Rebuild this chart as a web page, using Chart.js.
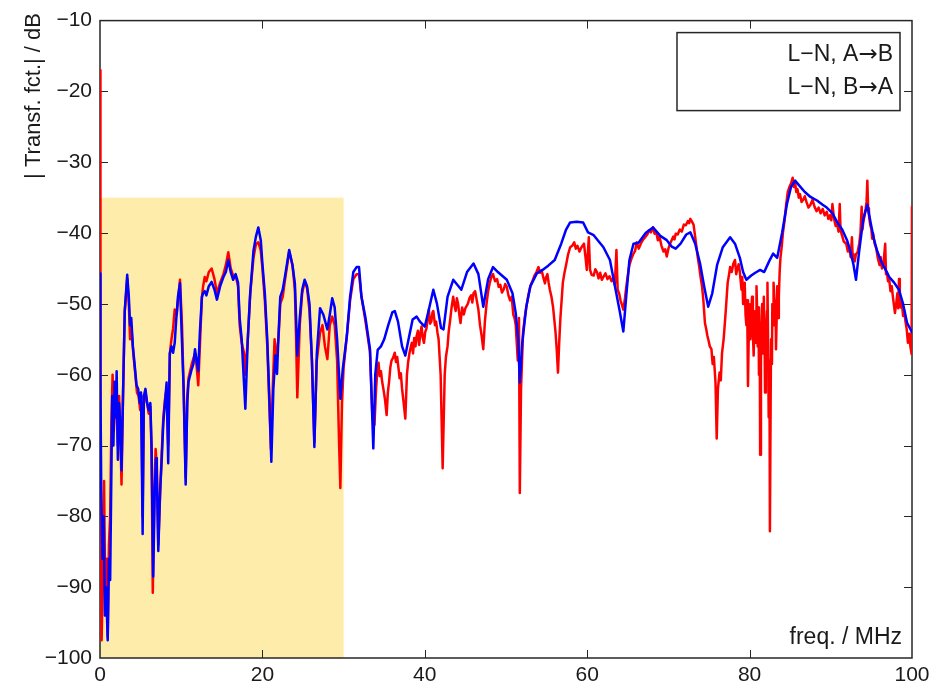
<!DOCTYPE html>
<html>
<head>
<meta charset="utf-8">
<script src="https://cdn.jsdelivr.net/npm/chart.js@4.4.1/dist/chart.umd.min.js"></script>
<style>
  html, body { margin: 0; padding: 0; background: #ffffff; }
  canvas { display: block; }
</style>
</head>
<body>
<canvas id="chart" width="942" height="688"></canvas>
<script>
// Transfer function magnitude, [frequency MHz, dB]
const traceAtoB = [
  [0,-17],[0.03,-35],[0.08,-70],[0.2,-97.5],[0.35,-88],[0.5,-75],[0.65,-92],[0.8,-86],[0.95,-97],[1.1,-84],
  [1.25,-80],[1.4,-67],[1.55,-60],[1.7,-68],[1.85,-62],[2.0,-64],[2.2,-70],[2.35,-63],[2.5,-68],[2.65,-75.5],
  [2.85,-62],[3.05,-51],[3.35,-46.5],[3.55,-50],[3.7,-55],[3.9,-54],[4.1,-57],[4.35,-60],[4.55,-62.5],[4.75,-63],
  [4.95,-65],[5.1,-63],[5.25,-80],[5.4,-64],[5.6,-62.5],[5.8,-64],[6.0,-65.5],[6.2,-64.5],[6.35,-71],[6.5,-90.8],
  [6.7,-76],[6.85,-70.5],[7.0,-73],[7.18,-84],[7.4,-77],[7.6,-71],[7.8,-66],[8.0,-63.5],[8.2,-62],[8.4,-70],
  [8.6,-57],[8.8,-55],[9.0,-53.5],[9.2,-50.8],[9.45,-51.5],[9.65,-49],[9.85,-46.6],[10.1,-53],[10.3,-62],[10.55,-74.5],
  [10.75,-63],[10.9,-60.5],[11.3,-58.5],[11.7,-57],[11.9,-58.8],[12.1,-61.5],[12.3,-56],[12.55,-49],[12.7,-47.5],[12.9,-46.2],
  [13.1,-46.8],[13.4,-45.5],[13.75,-45],[14.1,-46.5],[14.4,-48.5],[14.8,-47],[15.2,-45.8],[15.5,-44.5],[15.8,-42.7],[16.1,-45],
  [16.4,-46],[16.7,-46],[17.0,-47.5],[17.2,-53],[17.45,-55.5],[17.75,-57],[17.9,-60],[18.2,-55],[18.5,-48.5],[18.9,-43.5],
  [19.2,-41.6],[19.5,-41.3],[19.8,-42.5],[20.0,-45],[20.3,-49.5],[20.6,-56],[20.85,-64],[21.05,-70.5],[21.3,-61],[21.5,-55],
  [21.7,-58],[22.0,-54.5],[22.2,-50],[22.5,-49],[22.8,-46.5],[23.3,-42.6],[23.7,-44.5],[24.0,-48],[24.15,-55],[24.3,-63.2],
  [24.6,-53],[24.9,-48.5],[25.2,-46.8],[25.5,-47.8],[25.8,-51],[26.1,-58],[26.4,-69.5],[26.7,-58],[27.1,-54.1],[27.4,-53],
  [27.7,-56],[28.0,-57.8],[28.3,-53],[28.6,-51.8],[28.9,-53],[29.2,-58],[29.45,-70],[29.6,-76],[29.8,-64],[30.0,-59],
  [30.4,-54.5],[30.8,-49.5],[31.2,-46.5],[31.6,-45.8],[31.9,-45.8],[32.2,-49],[32.7,-52.5],[33.25,-56.8],[33.55,-66],[33.8,-67.1],
  [34.0,-62],[34.15,-59.5],[34.3,-58.3],[34.45,-60.2],[34.6,-59.5],[34.75,-61],[34.9,-62],[35.1,-63.5],[35.3,-65.7],[35.45,-62.5],
  [35.6,-61],[35.75,-59],[35.9,-58],[36.1,-57.6],[36.3,-56.9],[36.45,-58.2],[36.6,-57.5],[36.75,-59],[36.9,-60.5],[37.05,-59.8],
  [37.2,-62],[37.4,-64],[37.6,-66.2],[37.8,-60],[37.95,-58.2],[38.1,-57],[38.25,-56.2],[38.4,-55.5],[38.55,-57],[38.7,-54.8],
  [38.85,-56],[39.0,-54.5],[39.15,-53.8],[39.3,-55.8],[39.45,-54.2],[39.6,-53.2],[39.75,-54.8],[39.9,-55.5],[40.05,-54],[40.2,-53.5],
  [40.35,-52],[40.5,-50.8],[40.65,-52.8],[40.8,-52.5],[40.95,-51.2],[41.05,-51],[41.25,-53],[41.4,-52.5],[41.55,-54],[41.7,-55],
  [41.95,-60],[42.2,-73.2],[42.45,-60],[42.6,-57.5],[42.8,-56],[42.95,-53.8],[43.1,-52.5],[43.3,-50.5],[43.5,-49],[43.65,-50.2],
  [43.8,-51],[43.95,-49.2],[44.1,-50],[44.25,-51.5],[44.4,-52.7],[44.6,-50.5],[44.8,-51.5],[45.0,-50.6],[45.3,-50],[45.5,-49.2],
  [45.7,-48.8],[45.85,-49.8],[46.0,-48.5],[46.2,-48.2],[46.4,-49.5],[46.6,-50.8],[46.8,-53],[47.0,-54.5],[47.2,-56.4],[47.4,-52.5],
  [47.6,-50],[47.8,-48.2],[48.0,-47],[48.2,-46.2],[48.4,-45.8],[48.65,-46.8],[48.9,-46.5],[49.1,-47.6],[49.3,-47.3],[49.5,-48.4],
  [49.7,-48],[49.9,-47.2],[50.1,-47.6],[50.3,-48.8],[50.5,-49.5],[50.7,-49],[50.9,-51.5],[51.05,-52],[51.2,-53],[51.45,-58],
  [51.6,-52],[51.7,-76.7],[51.85,-62],[52.1,-54],[52.3,-52],[52.5,-50.5],[52.75,-48.8],[53.0,-47.5],[53.25,-46.8],[53.5,-46],
  [53.75,-45.5],[54.0,-44.8],[54.2,-45.6],[54.4,-45.3],[54.6,-46.3],[54.8,-47.1],[54.95,-46.2],[55.1,-45.8],[55.25,-47],[55.4,-48],
  [55.6,-49],[55.8,-50.5],[56.1,-54],[56.25,-56.5],[56.4,-59.7],[56.55,-55.5],[56.7,-52],[57.0,-47],[57.2,-45.6],[57.4,-44.5],
  [57.65,-43],[57.9,-42],[58.15,-41.8],[58.4,-41.3],[58.6,-42.2],[58.8,-41.8],[59.05,-42.6],[59.3,-42],[59.6,-41.5],[59.8,-43.5],
  [59.95,-45.2],[60.2,-40.6],[60.35,-45.2],[60.55,-45.9],[60.8,-46],[61.0,-45.1],[61.2,-45.5],[61.4,-46.4],[61.6,-45.6],[61.8,-46.6],
  [62.0,-46.2],[62.25,-45.7],[62.5,-46.5],[62.75,-46.1],[63.0,-46.8],[63.2,-46.3],[63.4,-47.3],[63.6,-42.4],[63.75,-48],[63.95,-48.6],
  [64.1,-49.5],[64.3,-50.2],[64.45,-50.8],[64.65,-49.2],[64.8,-47.7],[65.0,-46],[65.2,-44.5],[65.45,-43.6],[65.7,-42.9],[65.9,-42.5],
  [66.1,-41.3],[66.35,-42.2],[66.6,-41.5],[66.9,-40.9],[67.2,-40.5],[67.4,-40.2],[67.6,-39.6],[67.85,-39.9],[68.1,-39.2],[68.3,-40.1],
  [68.5,-39.8],[68.7,-41],[68.9,-40.5],[69.15,-41.8],[69.4,-42.6],[69.6,-42.3],[69.8,-43.3],[70.0,-42.2],[70.2,-41.5],[70.4,-41],
  [70.6,-40.5],[70.75,-40.9],[70.9,-40.1],[71.15,-40.2],[71.4,-39.5],[71.65,-39.8],[71.9,-38.8],[72.15,-38.9],[72.4,-38.3],[72.55,-38.6],
  [72.7,-38],[72.9,-38.4],[73.1,-38.8],[73.35,-41],[73.6,-43.3],[73.8,-44.8],[74.0,-46.5],[74.15,-47.6],[74.3,-49.4],[74.5,-52.7],
  [74.65,-53.5],[74.8,-54.5],[74.95,-55.2],[75.1,-56],[75.3,-56.4],[75.45,-58.5],[75.6,-57.5],[75.8,-61.1],[75.95,-69],[76.1,-62],
  [76.3,-59.7],[76.45,-60.8],[76.6,-57],[76.8,-55],[77.0,-52],[77.15,-49.5],[77.3,-47],[77.45,-46],[77.6,-44.8],[77.8,-45.5],
  [78.0,-44.3],[78.2,-43.8],[78.35,-45.8],[78.5,-45],[78.65,-44.4],[78.8,-45.5],[79.0,-48],[79.1,-46.2],[79.2,-50],[79.3,-48.4],
  [79.4,-47],[79.5,-51.5],[79.6,-53],[79.7,-49.5],[79.8,-61.6],[79.95,-50],[80.05,-53.5],[80.1,-55],[80.2,-51],[80.3,-49],
  [80.4,-54],[80.5,-57.3],[80.6,-52.5],[80.7,-51],[80.8,-55.5],[80.85,-47.5],[80.95,-52],[81.0,-56],[81.1,-50.5],[81.15,-60],
  [81.25,-55],[81.3,-71.3],[81.4,-58],[81.45,-53],[81.55,-50],[81.6,-57],[81.7,-54],[81.75,-49],[81.85,-55.5],[81.9,-62.5],
  [82.0,-57],[82.05,-54],[82.15,-51],[82.2,-47],[82.3,-58],[82.35,-66],[82.45,-60],[82.5,-82.1],[82.6,-62],[82.65,-55],
  [82.75,-58.5],[82.8,-50],[82.9,-53],[82.95,-47],[83.05,-49.5],[83.1,-53],[83.2,-50.5],[83.25,-56.4],[83.35,-51],[83.4,-47.5],
  [83.5,-52],[83.6,-49],[83.7,-45.5],[83.8,-43.5],[83.95,-42],[84.1,-40],[84.3,-38.3],[84.5,-36],[84.7,-34.2],[84.9,-33.5],
  [85.1,-33],[85.3,-32.2],[85.45,-33.5],[85.6,-32.8],[85.75,-34.2],[85.9,-33.8],[86.05,-35],[86.2,-34.5],[86.4,-35.6],[86.6,-35.3],
  [86.8,-34.8],[87.0,-35.6],[87.25,-36.4],[87.5,-36],[87.75,-35.3],[88.0,-36.3],[88.25,-36.9],[88.5,-36.4],[88.75,-37.2],[89.0,-36.6],
  [89.25,-37.5],[89.5,-37],[89.7,-38],[89.9,-37.5],[90.05,-38.2],[90.2,-35.9],[90.4,-38],[90.6,-39],[90.8,-38.8],[90.95,-39.8],
  [91.1,-35.9],[91.2,-39.6],[91.3,-40],[91.6,-41.2],[91.9,-41.5],[92.1,-42.6],[92.3,-42.2],[92.45,-43.4],[92.6,-40.6],[92.7,-43.6],
  [92.8,-43],[92.95,-44],[93.1,-43],[93.3,-42.7],[93.5,-41.5],[93.65,-40],[93.8,-36.3],[93.9,-39.5],[94.0,-38.5],[94.15,-37.6],
  [94.3,-36.5],[94.4,-35.6],[94.5,-32.6],[94.6,-36.5],[94.7,-37.5],[94.85,-38.8],[95.0,-39.5],[95.1,-40.8],[95.2,-40],[95.4,-41.5],
  [95.6,-42.2],[95.8,-43.6],[96.0,-44.5],[96.15,-43.4],[96.3,-45],[96.5,-44.2],[96.7,-41.5],[96.8,-45.8],[96.9,-45.5],[97.05,-46.8],
  [97.2,-46.6],[97.35,-48.2],[97.5,-47.5],[97.7,-49.5],[97.9,-51.3],[98.05,-50],[98.2,-48.5],[98.3,-50.6],[98.4,-46.5],[98.5,-49.4],
  [98.6,-50.5],[98.75,-49.8],[98.9,-51.7],[99.05,-51],[99.2,-52.5],[99.35,-53.6],[99.5,-55.5],[99.65,-54.2],[99.8,-56],[99.95,-57.1],
  [100,-36.3]
];

const traceBtoA = [
  [0,-45.7],[0.05,-61],[0.15,-76],[0.3,-86],[0.45,-80],[0.6,-94],[0.75,-90],[0.95,-97.5],[1.1,-86],[1.25,-89],
  [1.4,-74],[1.5,-63],[1.65,-70],[1.8,-61],[1.95,-66],[2.05,-59.5],[2.2,-72],[2.35,-64],[2.5,-67],[2.65,-73.5],
  [2.85,-62],[3.05,-51],[3.35,-45.9],[3.55,-49],[3.7,-53],[3.85,-52],[4.05,-56],[4.3,-59],[4.5,-61.5],[4.7,-62],
  [4.9,-64],[5.05,-62.5],[5.25,-82.5],[5.4,-63],[5.6,-62],[5.8,-64],[6.0,-65],[6.2,-64],[6.35,-70],[6.55,-88.5],
  [6.75,-76],[6.9,-71.8],[7.0,-74],[7.18,-84.9],[7.4,-76.5],[7.6,-72],[7.8,-66.7],[8.0,-64],[8.2,-61.1],[8.4,-72.5],
  [8.6,-57],[8.8,-56],[9.0,-56.9],[9.2,-55.5],[9.4,-52],[9.6,-49],[9.85,-47.1],[10.1,-55.5],[10.3,-62],[10.55,-75.5],
  [10.75,-64],[10.9,-61],[11.3,-59.2],[11.5,-58.5],[11.7,-56.4],[11.9,-58],[12.1,-59.5],[12.3,-54],[12.55,-49],[12.7,-48.5],
  [12.9,-48.2],[13.1,-48.8],[13.4,-47.5],[13.75,-46.9],[14.1,-48],[14.4,-49.4],[14.8,-47.5],[15.2,-46.2],[15.5,-45.5],[15.8,-43.8],
  [16.1,-45.5],[16.4,-46.6],[16.7,-45.8],[17.0,-47],[17.2,-52],[17.45,-55],[17.9,-64.8],[18.2,-55],[18.5,-48.5],[18.9,-42.5],
  [19.2,-40.5],[19.5,-39.2],[19.8,-41],[20.0,-44.3],[20.3,-48.5],[20.6,-55],[20.85,-63],[21.1,-72.3],[21.35,-62],[21.6,-57.3],
  [21.8,-59.9],[22.0,-54],[22.2,-49],[22.5,-48],[22.8,-46],[23.3,-42.4],[23.7,-44.5],[24.0,-47.1],[24.15,-52],[24.3,-57.3],
  [24.6,-52],[24.9,-48],[25.2,-46.6],[25.5,-47.5],[25.8,-50],[26.1,-58],[26.4,-70.2],[26.7,-57],[27.1,-50.6],[27.5,-51.5],
  [28.0,-53.6],[28.3,-51.5],[28.6,-49.2],[28.9,-50.5],[29.2,-55],[29.6,-63.4],[29.9,-59.2],[30.4,-54.5],[30.8,-49],[31.2,-45.5],
  [31.6,-44.8],[31.9,-44.8],[32.2,-49],[32.7,-52],[33.25,-56.4],[33.66,-70.4],[33.9,-60],[34.2,-56.5],[34.6,-56],[35.0,-55],
  [35.5,-53],[36.0,-51.2],[36.3,-51],[36.7,-52.5],[37.2,-56],[37.6,-57.3],[38.0,-55],[38.5,-52.2],[39.0,-51.8],[39.4,-52.5],
  [40.0,-53.2],[40.5,-50.8],[41.05,-48],[41.5,-50],[42.0,-53.4],[42.3,-53.6],[42.8,-49],[43.5,-46.6],[44.0,-47.3],[44.5,-48],
  [45.2,-45.5],[46.0,-44.3],[46.6,-45.8],[47.2,-50.4],[47.8,-46.5],[48.4,-44.8],[49.0,-45.5],[50.1,-46.6],[50.8,-48.5],[51.2,-51.3],
  [51.5,-55],[51.7,-61.1],[52.0,-55.5],[52.5,-50.4],[53.0,-47.5],[53.8,-45.7],[54.5,-45.2],[55.2,-44.6],[56.0,-43.8],[56.8,-41.5],
  [57.4,-39.5],[57.9,-38.5],[58.7,-38.4],[59.5,-38.5],[60.1,-39.9],[60.8,-40.3],[61.5,-41.3],[62.0,-42],[62.8,-43.8],[63.5,-48],
  [64.0,-51],[64.45,-53.9],[64.8,-49],[65.2,-43.8],[65.7,-41.5],[66.3,-41.4],[67.2,-40],[68.1,-39.2],[69.0,-40.4],[69.8,-41],
  [70.4,-41.9],[70.9,-42.2],[71.5,-41.5],[72.2,-40.2],[72.7,-39.9],[73.3,-41.5],[73.9,-44.3],[74.4,-47.5],[74.9,-50.4],[75.4,-48.5],
  [76.0,-44.5],[76.7,-42],[77.6,-40.6],[78.2,-41.5],[78.8,-43.5],[79.2,-45.5],[79.6,-46.6],[80.2,-46],[80.7,-45.6],[81.3,-45.2],
  [81.8,-45.5],[82.4,-44],[82.9,-42.9],[83.4,-43.5],[84.0,-40],[84.6,-35.9],[85.1,-33.5],[85.6,-32.6],[86.2,-33.4],[86.8,-34.2],
  [87.5,-34.9],[88.3,-35.4],[89.0,-36],[89.5,-36.4],[90.2,-37.2],[90.8,-38.5],[91.4,-39.5],[92.0,-41],[92.4,-42.5],[92.8,-44.5],
  [93.1,-46.6],[93.5,-42.5],[94.0,-38],[94.5,-36],[94.9,-38.5],[95.3,-40.8],[95.7,-42.5],[96.2,-44],[96.8,-45.3],[97.2,-46.2],
  [97.8,-47],[98.4,-48],[98.9,-50],[99.4,-52.7],[100,-54]
];

const seriesLabels = ['L\u2212N, A\u2192B', 'L\u2212N, B\u2192A'];
const xTickValues = [0, 20, 40, 60, 80, 100];
const yTickValues = [-100, -90, -80, -70, -60, -50, -40, -30, -20, -10];
// frequency band highlighted below the limit line: [startMHz, endMHz, limitDb]
const limitBand = [0, 30, -35];

const FONT = "'Liberation Sans', Arial, Helvetica, sans-serif";
const ARROW_FONT = "'DejaVu Sans', sans-serif";
const INK = '#262626';

const toPoints = (trace) => trace.map(([f, db]) => ({ x: f, y: db }));
const minusSign = (v) => String(v).replace('-', '\u2212');

// right-aligned text whose arrow glyph is set in a font with a long arrow
function drawLabel(ctx, text, right, y, size) {
  const parts = text.split('\u2192');
  const pieces = [];
  parts.forEach((p, i) => {
    if (i > 0) pieces.push({ t: '\u2192', f: size + 'px ' + ARROW_FONT });
    pieces.push({ t: p, f: size + 'px ' + FONT });
  });
  let total = 0;
  pieces.forEach(pc => { ctx.font = pc.f; pc.w = ctx.measureText(pc.t).width; total += pc.w; });
  let x = right - total;
  ctx.textAlign = 'left';
  pieces.forEach(pc => { ctx.font = pc.f; ctx.fillText(pc.t, x, y); x += pc.w; });
}

const decorations = {
  id: 'decorations',
  beforeDatasetsDraw(chart) {
    const { ctx, chartArea: a, scales: { x, y } } = chart;
    ctx.save();
    // highlighted band
    const bx0 = x.getPixelForValue(limitBand[0]);
    const bx1 = x.getPixelForValue(limitBand[1]);
    const by0 = y.getPixelForValue(limitBand[2]);
    const by1 = y.getPixelForValue(y.min);
    ctx.fillStyle = 'rgb(254,236,170)';
    ctx.fillRect(bx0, by0, bx1 - bx0, by1 - by0);
    // axes box
    ctx.strokeStyle = INK;
    ctx.lineWidth = 1.5;
    ctx.strokeRect(a.left, a.top, a.right - a.left, a.bottom - a.top);
    // inward tick marks on all four sides
    const len = 8;
    ctx.lineWidth = 1;
    ctx.beginPath();
    xTickValues.forEach(v => {
      if (v <= x.min || v >= x.max) return;
      const px = Math.round(x.getPixelForValue(v)) + 0.5;
      ctx.moveTo(px, a.bottom); ctx.lineTo(px, a.bottom - len);
      ctx.moveTo(px, a.top); ctx.lineTo(px, a.top + len);
    });
    yTickValues.forEach(v => {
      if (v <= y.min || v >= y.max) return;
      const py = Math.round(y.getPixelForValue(v)) + 0.5;
      ctx.moveTo(a.left, py); ctx.lineTo(a.left + len, py);
      ctx.moveTo(a.right, py); ctx.lineTo(a.right - len, py);
    });
    ctx.stroke();
    ctx.restore();
  },
  afterDatasetsDraw(chart) {
    const { ctx, chartArea: a } = chart;
    ctx.save();
    // legend box in the upper right corner
    const lx0 = a.right - 235, lx1 = a.right - 12;
    const ly0 = a.top + 12, ly1 = a.top + 90;
    ctx.fillStyle = '#ffffff';
    ctx.fillRect(lx0, ly0, lx1 - lx0, ly1 - ly0);
    ctx.strokeStyle = INK;
    ctx.lineWidth = 1.5;
    ctx.strokeRect(lx0, ly0, lx1 - lx0, ly1 - ly0);
    ctx.fillStyle = '#1a1a1a';
    ctx.textBaseline = 'middle';
    chart.data.datasets.forEach((ds, i) => {
      drawLabel(ctx, ds.label, lx1 - 7, ly0 + 22 + i * 33, 23);
    });
    // x axis title inside the plot
    ctx.font = '23px ' + FONT;
    ctx.textAlign = 'right';
    ctx.textBaseline = 'alphabetic';
    ctx.fillText('freq. / MHz', a.right - 10, a.bottom - 14);
    ctx.restore();
  },
  afterDraw(chart) {
    const { ctx } = chart;
    ctx.save();
    ctx.translate(40, 13);
    ctx.rotate(-Math.PI / 2);
    ctx.fillStyle = '#1a1a1a';
    ctx.font = '22px ' + FONT;
    ctx.textAlign = 'left';
    ctx.textBaseline = 'alphabetic';
    const label = '| Transf. fct.| / dB';
    const w = ctx.measureText(label).width;
    ctx.fillText(label, -w, 0);
    ctx.restore();
  }
};

new Chart(document.getElementById('chart'), {
  type: 'line',
  data: {
    datasets: [
      {
        label: seriesLabels[0],
        data: toPoints(traceAtoB),
        borderColor: '#ff0000',
        borderWidth: 2.5,
        order: 2
      },
      {
        label: seriesLabels[1],
        data: toPoints(traceBtoA),
        borderColor: '#0000ff',
        borderWidth: 2.5,
        order: 1
      }
    ]
  },
  options: {
    responsive: false,
    animation: false,
    devicePixelRatio: 1,
    layout: { padding: { top: 15, right: 30, left: 0, bottom: 0 } },
    elements: {
      point: { radius: 0 },
      line: { tension: 0, borderJoinStyle: 'round', borderCapStyle: 'round' }
    },
    plugins: {
      legend: { display: false },
      tooltip: { enabled: false },
      title: { display: false }
    },
    scales: {
      x: {
        type: 'linear',
        min: 0,
        max: 100,
        afterFit: (s) => { s.height = 30; },
        afterBuildTicks: (s) => { s.ticks = xTickValues.map(v => ({ value: v })); },
        grid: { display: false, drawTicks: false },
        border: { display: false },
        ticks: {
          color: '#1a1a1a',
          font: { family: FONT, size: 21 },
          padding: 5,
          maxRotation: 0,
          callback: minusSign
        }
      },
      y: {
        type: 'linear',
        min: -100,
        max: -10,
        afterFit: (s) => { s.width = 100; },
        afterBuildTicks: (s) => { s.ticks = yTickValues.map(v => ({ value: v })); },
        grid: { display: false, drawTicks: false },
        border: { display: false },
        ticks: {
          color: '#1a1a1a',
          font: { family: FONT, size: 21 },
          padding: 8,
          callback: minusSign
        }
      }
    }
  },
  plugins: [decorations]
});
</script>
</body>
</html>
